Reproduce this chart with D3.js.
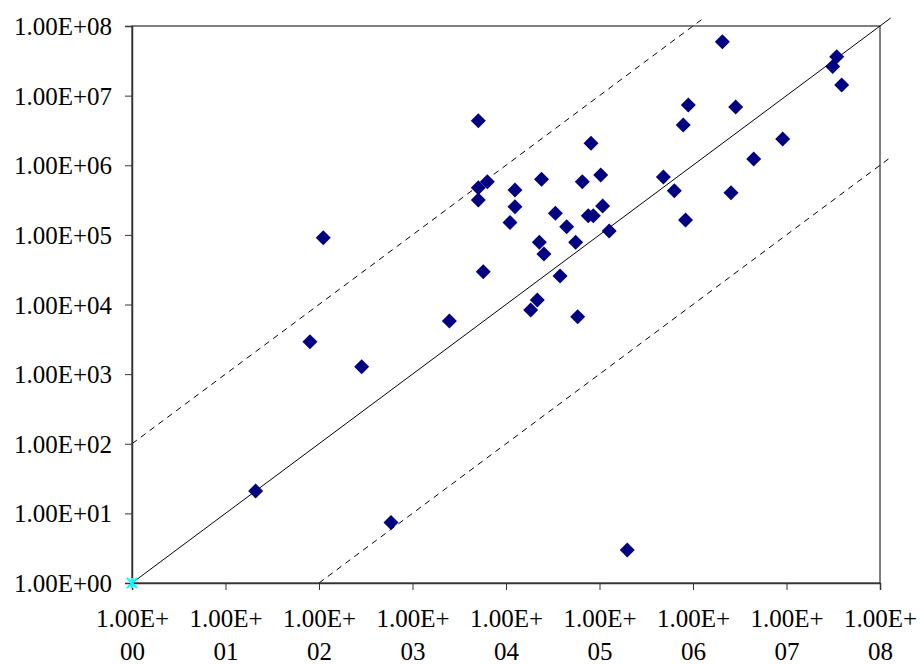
<!DOCTYPE html>
<html><head><meta charset="utf-8">
<script src="https://cdn.jsdelivr.net/npm/d3@7"></script>
<style>
body{margin:0;background:#fff;}
svg{display:block;}
.tick text{font-family:"Liberation Serif","Times New Roman",serif;font-size:25px;fill:#000;}
</style></head>
<body>
<svg id="chart" width="921" height="664"></svg>
<script>
const tickValues = [1e0,1e1,1e2,1e3,1e4,1e5,1e6,1e7,1e8];
const tickLabels = ["1.00E+00","1.00E+01","1.00E+02","1.00E+03","1.00E+04","1.00E+05","1.00E+06","1.00E+07","1.00E+08"];
const xValues = [21, 80, 111, 286, 589, 2480, 5060, 5060, 6310, 5060, 12470, 12470, 11040, 23990, 65460, 103000, 81100, 482000, 631000, 832000, 33730, 44570, 75860, 85900, 108000, 127000, 22700, 25470, 55590, 5715, 37840, 21630, 18370, 58480, 198000, 891000, 787000, 2060000, 34400000, 31200000, 38900000, 2860000, 9100000, 4460000, 2550000];
const yValues = [21, 2920, 91200, 1280, 7.4, 5790, 4370000, 476000, 581000, 316000, 442000, 254000, 151000, 628000, 581000, 724000, 2070000, 676000, 432000, 164000, 204000, 131000, 188000, 188000, 260000, 114000, 78200, 53090, 78200, 29580, 25700, 11610, 8337, 6683, 2.98, 7330000, 3780000, 59600000, 36300000, 26100000, 14200000, 6840000, 2380000, 1230000, 404000];
const originPoint = [1, 1];
const refLines = [
  {name:"equal", x0:1, y0:1, x1:1.3e8, y1:1.3e8, dash:null},
  {name:"upper", x0:1, y0:100, x1:1.3e6, y1:1.3e8, dash:"6,5"},
  {name:"lower", x0:100, y0:1, x1:1.3e8, y1:1.3e6, dash:"6,5"}
];

const svg = d3.select("#chart");
const m = {left:132, right:880, top:26, bottom:583};
const x = d3.scaleLog().domain([1,1e8]).range([m.left, m.right]);
const y = d3.scaleLog().domain([1,1e8]).range([m.bottom, m.top]);

// plot frame
svg.append("rect").attr("x", m.left).attr("y", m.top)
  .attr("width", m.right-m.left).attr("height", m.bottom-m.top)
  .attr("fill","none").attr("stroke","#000").attr("stroke-width",1);

// reference lines
refLines.forEach(l => {
  svg.append("line")
    .attr("x1", x(l.x0)).attr("y1", y(l.y0))
    .attr("x2", x(l.x1)).attr("y2", y(l.y1))
    .attr("stroke","#000").attr("stroke-width",1)
    .attr("stroke-dasharray", l.dash);
});

// axes
const yAxis = svg.append("g").attr("transform",`translate(${m.left},0)`)
  .call(d3.axisLeft(y).tickValues(tickValues).tickFormat((d,i)=>tickLabels[i]).tickSize(7).tickPadding(13));
yAxis.select(".domain").attr("stroke","#333").attr("stroke-width",1.5);
yAxis.selectAll(".tick line").attr("stroke","#333");
yAxis.selectAll(".tick text").attr("dy","0.34em");

const xAxis = svg.append("g").attr("transform",`translate(0,${m.bottom})`)
  .call(d3.axisBottom(x).tickValues(tickValues).tickFormat("").tickSize(7));
xAxis.select(".domain").attr("stroke","#333").attr("stroke-width",1.5);
xAxis.selectAll(".tick line").attr("stroke","#333");
xAxis.selectAll(".tick").each(function(d,i){
  const lbl = tickLabels[i];
  const t = d3.select(this).append("text").attr("text-anchor","middle").attr("fill","#000");
  t.append("tspan").attr("x",0).attr("y",44).text(lbl.slice(0,6));
  t.append("tspan").attr("x",0).attr("y",77).text(lbl.slice(6));
});

// data points (diamonds)
const pts = xValues.map((v,i)=>[v, yValues[i]]);
const r = 7.5;
svg.append("g").selectAll("path").data(pts).join("path")
  .attr("d", d => `M${x(d[0])},${y(d[1])-r}L${x(d[0])+r},${y(d[1])}L${x(d[0])},${y(d[1])+r}L${x(d[0])-r},${y(d[1])}Z`)
  .attr("fill","#000080");

// origin marker (cyan asterisk)
const ox = x(originPoint[0]), oy = y(originPoint[1]);
const s = 5;
svg.append("path")
  .attr("d", `M${ox-s},${oy-s}L${ox+s},${oy+s}M${ox-s},${oy+s}L${ox+s},${oy-s}M${ox},${oy-s}L${ox},${oy+s}`)
  .attr("stroke","#00ffff").attr("stroke-width",2).attr("fill","none");
</script>
</body></html>
